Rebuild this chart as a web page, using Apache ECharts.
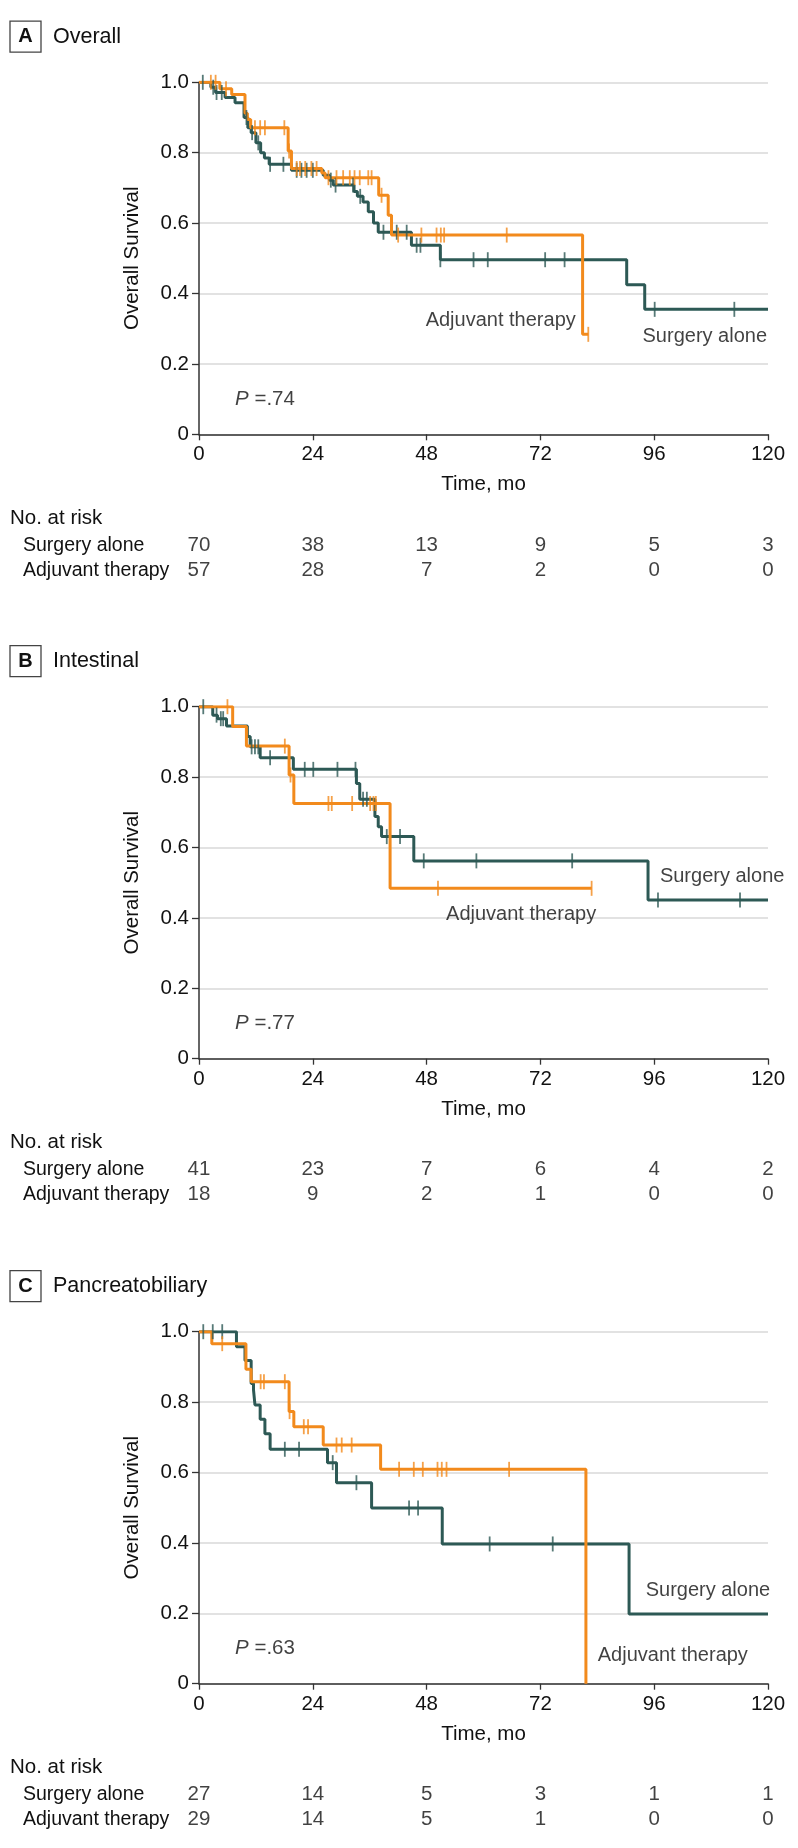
<!DOCTYPE html>
<html><head><meta charset="utf-8">
<script src="https://cdn.jsdelivr.net/npm/echarts@6/dist/echarts.min.js"></script>
<style>html,body{margin:0;padding:0;background:#fff}#c{width:798px;height:1848px}</style>
</head><body><div id="c"></div>
<script>
// ---------- DATA ----------
const riskTimes = [0, 24, 48, 72, 96, 120];
const groups = ['Surgery alone', 'Adjuvant therapy'];
const panelLetters = ['A', 'B', 'C'];
const panelTitles = ['Overall', 'Intestinal', 'Pancreatobiliary'];
const pValues = ['.74', '.77', '.63'];

// Panel A – Overall
const aSurgT = [2.5, 3.5, 5.5, 7.6, 9.5, 10.3, 11.0, 12.0, 13.0, 13.8, 14.8, 19.5, 26.2, 27.5, 28.3, 32.7, 33.4, 34.6, 35.7, 36.8, 37.8, 44.8, 50.9, 90.2, 94.0];
const aSurgS = [0.986, 0.971, 0.957, 0.942, 0.900, 0.871, 0.857, 0.828, 0.800, 0.785, 0.767, 0.750, 0.736, 0.722, 0.708, 0.690, 0.676, 0.660, 0.632, 0.600, 0.574, 0.537, 0.496, 0.425, 0.355];
const aSurgC = [0.8, 3.0, 3.7, 4.8, 10.0, 11.2, 12.5, 15.0, 17.8, 20.6, 21.6, 22.7, 24.0, 27.8, 28.8, 32.5, 34.0, 38.9, 41.7, 43.8, 45.9, 46.7, 50.9, 57.9, 60.9, 73.0, 77.1, 96.1, 112.9];
const aSurgEnd = 120;
const aAdjT = [4.4, 6.9, 9.7, 10.2, 10.9, 18.8, 19.5, 25.9, 26.6, 37.9, 39.9, 40.6, 80.9];
const aAdjS = [0.982, 0.965, 0.912, 0.894, 0.871, 0.805, 0.755, 0.742, 0.729, 0.679, 0.622, 0.566, 0.284];
const aAdjC = [2.5, 3.5, 5.7, 11.8, 12.9, 13.9, 18.0, 19.0, 20.6, 21.3, 22.4, 23.7, 24.8, 27.3, 29.0, 30.4, 31.8, 32.8, 33.9, 35.7, 36.4, 38.5, 42.0, 46.9, 50.1, 51.0, 51.7, 64.9, 82.1];
const aAdjEnd = 82.1;
const aRiskSurg = [70, 38, 13, 9, 5, 3];
const aRiskAdj = [57, 28, 7, 2, 0, 0];

// Panel B – Intestinal
const bSurgT = [2.9, 3.9, 5.8, 10.2, 10.8, 12.9, 19.9, 33.2, 33.9, 37.1, 37.8, 38.5, 45.3, 94.7];
const bSurgS = [0.976, 0.966, 0.945, 0.915, 0.886, 0.855, 0.822, 0.782, 0.737, 0.688, 0.659, 0.631, 0.562, 0.451];
const bSurgC = [0.9, 3.7, 4.6, 5.1, 11.1, 11.8, 12.5, 15.0, 22.3, 24.1, 29.2, 33.0, 34.6, 35.4, 39.6, 42.4, 47.4, 58.5, 78.7, 96.8, 114.1];
const bSurgEnd = 120;
const bAdjT = [7.1, 10.0, 19.0, 20.0, 40.3];
const bAdjS = [0.944, 0.888, 0.806, 0.725, 0.484];
const bAdjC = [6.0, 18.1, 19.3, 27.3, 28.0, 32.3, 36.1, 36.8, 37.3, 50.4, 82.8];
const bAdjEnd = 82.8;
const bRiskSurg = [41, 23, 7, 6, 4, 2];
const bRiskAdj = [18, 9, 2, 1, 0, 0];

// Panel C – Pancreatobiliary
const cSurgT = [7.9, 9.7, 11.0, 11.5, 11.8, 12.9, 13.9, 15.0, 27.1, 29.0, 36.4, 51.3, 90.7];
const cSurgS = [0.957, 0.918, 0.853, 0.834, 0.792, 0.751, 0.710, 0.666, 0.628, 0.571, 0.499, 0.397, 0.198];
const cSurgC = [0.9, 2.9, 4.9, 18.1, 21.1, 28.2, 33.2, 44.3, 46.2, 61.3, 74.6];
const cSurgEnd = 120;
const cAdjT = [2.7, 9.9, 11.0, 19.0, 20.0, 26.2, 38.3, 81.6];
const cAdjS = [0.966, 0.893, 0.858, 0.773, 0.730, 0.678, 0.609, 0];
const cAdjC = [4.9, 13.0, 13.7, 18.1, 19.1, 22.1, 23.0, 29.0, 30.1, 32.2, 42.2, 45.3, 47.2, 50.3, 51.2, 52.2, 65.4];
const cAdjEnd = 81.6;
const cRiskSurg = [27, 14, 5, 3, 1, 1];
const cRiskAdj = [29, 14, 5, 1, 0, 0];

// ---------- STYLE / LAYOUT ----------
const FONT = '"Liberation Sans", Arial, sans-serif';
const TXT = '#111';
const SURG_COLOR = '#2d5955';
const ADJ_COLOR = '#f28a1c';
const GRID_LEFT = 199, GRID_RIGHT = 30, PLOT_H = 352;
const plotTops = [82.3, 706.7, 1331.7];
const FS = 20.5;

const panels = [
  { surg: [aSurgT, aSurgS, aSurgC, aSurgEnd], adj: [aAdjT, aAdjS, aAdjC, aAdjEnd], risk: [aRiskSurg, aRiskAdj],
    notes: [ { v: [47.8, 0.324], t: 'Adjuvant therapy', pos: 'right' }, { v: [119.8, 0.278], t: 'Surgery alone', pos: 'left' } ] },
  { surg: [bSurgT, bSurgS, bSurgC, bSurgEnd], adj: [bAdjT, bAdjS, bAdjC, bAdjEnd], risk: [bRiskSurg, bRiskAdj],
    notes: [ { v: [52.1, 0.41], t: 'Adjuvant therapy', pos: 'right' }, { v: [97.2, 0.519], t: 'Surgery alone', pos: 'right' } ] },
  { surg: [cSurgT, cSurgS, cSurgC, cSurgEnd], adj: [cAdjT, cAdjS, cAdjC, cAdjEnd], risk: [cRiskSurg, cRiskAdj],
    notes: [ { v: [84.1, 0.08], t: 'Adjuvant therapy', pos: 'right' }, { v: [94.2, 0.265], t: 'Surgery alone', pos: 'right' } ] }
];

function survAt(T, S, t) { let s = 1; for (let i = 0; i < T.length; i++) if (T[i] <= t) s = S[i]; return s; }
function stepPts(T, S, end) {
  const pts = [[0, 1]];
  T.forEach((t, i) => pts.push([t, S[i]]));
  pts.push([end, S[S.length - 1]]);
  return pts;
}

const grid = [], xAxis = [], yAxis = [], series = [], graphic = [];

panels.forEach((p, i) => {
  const top = plotTops[i];
  const bottom = top + PLOT_H;
  const gi = grid.length;
  grid.push({ left: GRID_LEFT, right: GRID_RIGHT, top: top, height: PLOT_H });
  xAxis.push({
    gridIndex: gi, type: 'value', min: 0, max: 120, interval: 24,
    axisLine: { show: true, lineStyle: { color: '#333', width: 1.5 } },
    axisTick: { show: true, length: 6, lineStyle: { color: '#333', width: 1.3 } },
    splitLine: { show: false },
    axisLabel: { fontSize: FS, color: TXT, fontFamily: FONT, margin: 10 },
    name: 'Time, mo', nameLocation: 'middle', nameGap: 40,
    nameTextStyle: { fontSize: FS, color: TXT, fontFamily: FONT }
  });
  yAxis.push({
    gridIndex: gi, type: 'value', min: 0, max: 1, interval: 0.2,
    axisLine: { show: true, lineStyle: { color: '#333', width: 1.5 } },
    axisTick: { show: true, length: 7, lineStyle: { color: '#333', width: 1.3 } },
    splitLine: { show: true, lineStyle: { color: '#d8d8d8', width: 1.5 } },
    axisLabel: { fontSize: FS, color: TXT, fontFamily: FONT, margin: 10,
      formatter: v => (v === 0 ? '0' : v.toFixed(1)) },
    name: 'Overall Survival', nameLocation: 'middle', nameRotate: 90, nameGap: 56,
    nameTextStyle: { fontSize: FS, color: TXT, fontFamily: FONT }
  });

  const mk = (d, color, name) => {
    const [T, S, C, end] = d;
    series.push({
      type: 'line', name: name, xAxisIndex: gi, yAxisIndex: gi, step: 'end', symbol: 'none',
      lineStyle: { color: color, width: 3 }, data: stepPts(T, S, end), z: 3, silent: true
    });
    series.push({
      type: 'scatter', xAxisIndex: gi, yAxisIndex: gi, symbol: 'rect', symbolSize: [1.8, 15],
      itemStyle: { color: color }, data: C.map(t => [t, survAt(T, S, t)]), z: 4, silent: true
    });
  };
  mk(p.surg, SURG_COLOR, groups[0]);
  mk(p.adj, ADJ_COLOR, groups[1]);

  // annotations (curve labels + P value)
  const noteData = p.notes.map(n => ({
    value: n.v,
    label: { show: true, position: n.pos, distance: 0, formatter: n.t, fontSize: 20, color: TXT, fontFamily: FONT }
  }));
  noteData.push({
    value: [7.6, 0.1],
    label: { show: true, position: 'right', distance: 0, formatter: '{i|P} =' + pValues[i],
      fontSize: FS, color: TXT, fontFamily: FONT,
      rich: { i: { fontStyle: 'italic', fontSize: FS, color: TXT, fontFamily: FONT } } }
  });
  series.push({ type: 'scatter', xAxisIndex: gi, yAxisIndex: gi, symbolSize: 0, data: noteData, z: 5, silent: true });

  // risk table grid
  const rgi = grid.length;
  grid.push({ left: GRID_LEFT, right: GRID_RIGHT, top: bottom + 98.5, height: 50 });
  xAxis.push({ gridIndex: rgi, type: 'value', min: 0, max: 120, show: false });
  yAxis.push({
    gridIndex: rgi, type: 'category', data: groups, inverse: true,
    axisLine: { show: false }, axisTick: { show: false }, splitLine: { show: false },
    axisLabel: { interval: 0, hideOverlap: false, align: 'left', margin: GRID_LEFT - 23, fontSize: 19.5, color: TXT, fontFamily: FONT }
  });
  const rdata = [];
  p.risk.forEach((arr, g) => arr.forEach((n, j) => rdata.push([riskTimes[j], groups[g], n])));
  series.push({
    type: 'scatter', xAxisIndex: rgi, yAxisIndex: rgi, symbolSize: 1,
    itemStyle: { color: 'rgba(0,0,0,0)' }, data: rdata, silent: true,
    label: { show: true, position: 'inside', formatter: q => String(q.value[2]), fontSize: FS, color: TXT, fontFamily: FONT }
  });

  // panel header and "No. at risk"
  const tc = top - 45.6;
  graphic.push({ type: 'rect', shape: { x: 10, y: tc - 15.5, width: 31, height: 31 },
    style: { fill: 'none', stroke: '#444', lineWidth: 1.3 } });
  graphic.push({ type: 'text', x: 25.5, y: tc, style: { text: panelLetters[i], font: 'bold 20px ' + FONT, fill: '#111', align: 'center', verticalAlign: 'middle' } });
  graphic.push({ type: 'text', x: 53, y: tc, style: { text: panelTitles[i], font: '21.5px ' + FONT, fill: TXT, align: 'left', verticalAlign: 'middle' } });
  graphic.push({ type: 'text', x: 10, y: bottom + 84, style: { text: 'No. at risk', font: FS + 'px ' + FONT, fill: TXT, align: 'left', verticalAlign: 'middle' } });
});

const chart = echarts.init(document.getElementById('c'), null, { renderer: 'canvas' });
chart.setOption({
  animation: false,
  backgroundColor: '#fff',
  textStyle: { fontFamily: FONT },
  grid: grid, xAxis: xAxis, yAxis: yAxis, series: series, graphic: graphic
});
</script></body></html>
